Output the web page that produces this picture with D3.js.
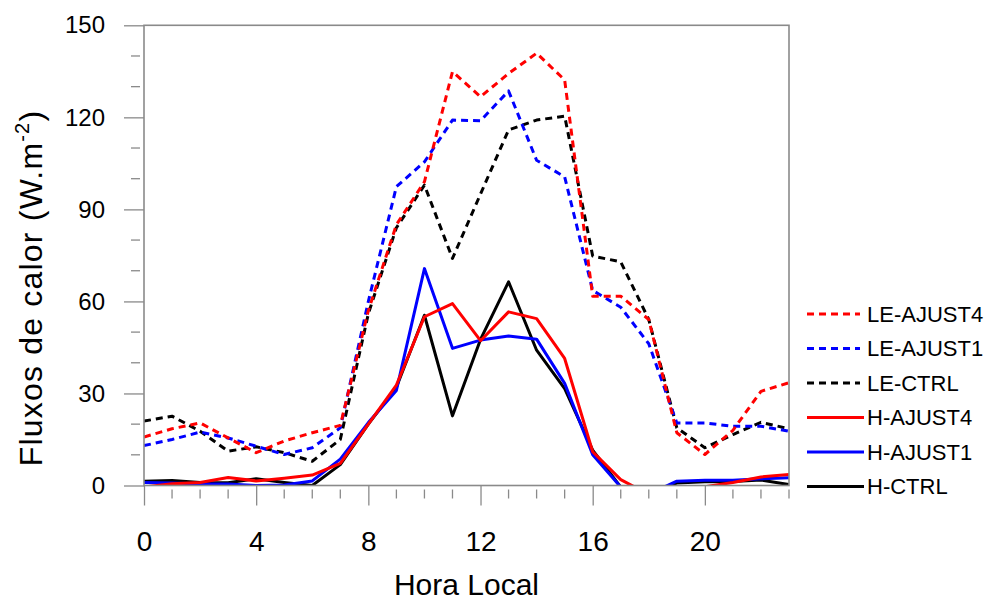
<!DOCTYPE html>
<html>
<head>
<meta charset="utf-8">
<script src="https://cdn.jsdelivr.net/npm/d3@7"></script>
<style>
  html, body { margin: 0; padding: 0; background: #fff; }
  svg { display: block; font-family: "Liberation Sans", Arial, Helvetica, sans-serif; }
</style>
</head>
<body>
<svg id="chart" width="987" height="600"></svg>
<script>
// Hourly surface heat fluxes (W m-2), local time 0..23
const hours = d3.range(0, 24);
const xMajorTicks = [0, 4, 8, 12, 16, 20];
const yMajorTicks = [0, 30, 60, 90, 120, 150];

const leAjust4 = [15.8, 18.5, 20.4, 15.5, 10.7, 14.5, 17.2, 19.6, 57, 85, 99, 134.9, 126.7, 134.3, 140.9, 132.2, 61.7, 61.7, 54.1, 17.2, 10.1, 18, 30.7, 33.5];
const leAjust1 = [13, 15, 17.4, 15.5, 12.8, 10.1, 12.3, 18.8, 60, 97.4, 105.5, 119.1, 118.9, 128.6, 106, 100.6, 63.6, 58.1, 46.2, 20.4, 20.4, 19.3, 19.3, 17.7];
const leCtrl   = [21, 22.6, 17.7, 11.2, 12.6, 10.7, 7.9, 15, 56, 84, 97.9, 74, 95, 115.9, 119.1, 120.4, 74.8, 72.9, 54.1, 18.8, 12.3, 16.6, 20.6, 18.5];
const hAjust4  = [-0.5, 0.6, 1.0, 2.6, 1.5, 2.4, 3.4, 7.2, 20, 32.7, 55, 59.3, 47.2, 56.6, 54.4, 41.4, 11, 1.9, -2.9, -3, -0.4, 1, 2.8, 3.6];
const hAjust1  = [1, 0.8, 0.5, 0.5, 0, 0.2, 1.5, 8.6, 20.5, 31, 70.7, 44.7, 47.4, 48.7, 47.7, 33.3, 10, -0.5, -2.8, 1.4, 1.7, 1.7, 2.2, 2.5];
const hCtrl    = [1.4, 1.6, 1.0, 0.9, 2.2, 1.0, 0, 6.8, 20, 32, 55.5, 22.7, 47.6, 66.4, 44.1, 31.6, 11.5, -0.5, -2.5, 0.8, 1.2, 1.3, 1.8, 0.3];

const series = [
  { name: "LE-AJUST4", values: leAjust4, color: "#ff0000", dashed: true },
  { name: "LE-AJUST1", values: leAjust1, color: "#0000ff", dashed: true },
  { name: "LE-CTRL",   values: leCtrl,   color: "#000000", dashed: true },
  { name: "H-AJUST4",  values: hAjust4,  color: "#ff0000", dashed: false },
  { name: "H-AJUST1",  values: hAjust1,  color: "#0000ff", dashed: false },
  { name: "H-CTRL",    values: hCtrl,    color: "#000000", dashed: false }
];

const svg = d3.select("#chart");
const frame = { left: 144, right: 789, top: 25.3, bottom: 485.5 };
const axisColor = "#8a8a8a";
const dash = "7,5";

const x = d3.scaleLinear().domain([0, 23]).range([frame.left, frame.right]);
const y = d3.scaleLinear().domain([0, 150]).range([frame.bottom, frame.top]);

// clip region for the curves
svg.append("defs").append("clipPath").attr("id", "plotClip")
  .append("rect")
  .attr("x", frame.left).attr("y", frame.top)
  .attr("width", frame.right - frame.left).attr("height", frame.bottom - frame.top);

// minor ticks (drawn slightly detached from the frame)
const xMinor = hours.filter(h => !xMajorTicks.includes(h));
svg.append("g").selectAll("line").data(xMinor).join("line")
  .attr("x1", d => x(d)).attr("x2", d => x(d))
  .attr("y1", frame.bottom + 4).attr("y2", frame.bottom + 13)
  .attr("stroke", axisColor).attr("stroke-width", 1.3);
const yMinor = d3.range(0, 151, 10).filter(v => !yMajorTicks.includes(v));
svg.append("g").selectAll("line").data(yMinor).join("line")
  .attr("y1", d => y(d)).attr("y2", d => y(d))
  .attr("x1", frame.left - 4).attr("x2", frame.left - 13)
  .attr("stroke", axisColor).attr("stroke-width", 1.3);

// major axes
const xAxis = svg.append("g")
  .attr("transform", `translate(0,${frame.bottom})`)
  .call(d3.axisBottom(x).tickValues(xMajorTicks).tickSize(20).tickPadding(26).tickSizeOuter(0));
xAxis.select(".domain").remove();
xAxis.selectAll(".tick line").attr("stroke", axisColor).attr("stroke-width", 1.3);
xAxis.selectAll(".tick text")
  .attr("fill", "#000").attr("font-size", 28)
  .attr("font-family", "Liberation Sans, Arial, sans-serif");

const yAxis = svg.append("g")
  .attr("transform", `translate(${frame.left},0)`)
  .call(d3.axisLeft(y).tickValues(yMajorTicks).tickSize(20).tickPadding(19).tickSizeOuter(0));
yAxis.select(".domain").remove();
yAxis.selectAll(".tick line").attr("stroke", axisColor).attr("stroke-width", 1.3);
yAxis.selectAll(".tick text")
  .attr("fill", "#000").attr("font-size", 24)
  .attr("font-family", "Liberation Sans, Arial, sans-serif");

// curves
const line = d3.line().x((d, i) => x(hours[i])).y(d => y(d));
const drawOrder = [2, 1, 0, 5, 4, 3];
svg.append("g").attr("clip-path", "url(#plotClip)")
  .selectAll("path").data(drawOrder.map(i => series[i])).join("path")
  .attr("d", d => line(d.values))
  .attr("fill", "none")
  .attr("stroke", d => d.color)
  .attr("stroke-width", 3)
  .attr("stroke-linejoin", "round")
  .attr("stroke-dasharray", d => d.dashed ? dash : null);

// frame
svg.append("rect")
  .attr("x", frame.left).attr("y", frame.top)
  .attr("width", frame.right - frame.left).attr("height", frame.bottom - frame.top)
  .attr("fill", "none").attr("stroke", axisColor).attr("stroke-width", 1.6);

// axis titles
svg.append("text")
  .attr("x", 466.5).attr("y", 595)
  .attr("text-anchor", "middle").attr("font-size", 30).attr("fill", "#000")
  .text("Hora Local");

const yTitle = svg.append("text")
  .attr("transform", "translate(42,288) rotate(-90)")
  .attr("text-anchor", "middle").attr("font-size", 32).attr("fill", "#000")
  .attr("letter-spacing", 1.2);
yTitle.append("tspan").text("Fluxos de calor (W.m");
yTitle.append("tspan").attr("font-size", 20).attr("dy", -13).text("-2");
yTitle.append("tspan").attr("dy", 13).text(")");

// legend
const legend = svg.append("g");
const rowY = i => 314 + i * 34.5;
legend.selectAll("line").data(series).join("line")
  .attr("x1", 807).attr("x2", (d) => d.dashed ? 860 : 864)
  .attr("y1", (d, i) => rowY(i)).attr("y2", (d, i) => rowY(i))
  .attr("stroke", d => d.color).attr("stroke-width", 3)
  .attr("stroke-dasharray", d => d.dashed ? dash : null);
legend.selectAll("text").data(series).join("text")
  .attr("x", 867).attr("y", (d, i) => rowY(i))
  .attr("dy", "0.36em").attr("font-size", 22).attr("fill", "#000")
  .text(d => d.name);
</script>
</body>
</html>
